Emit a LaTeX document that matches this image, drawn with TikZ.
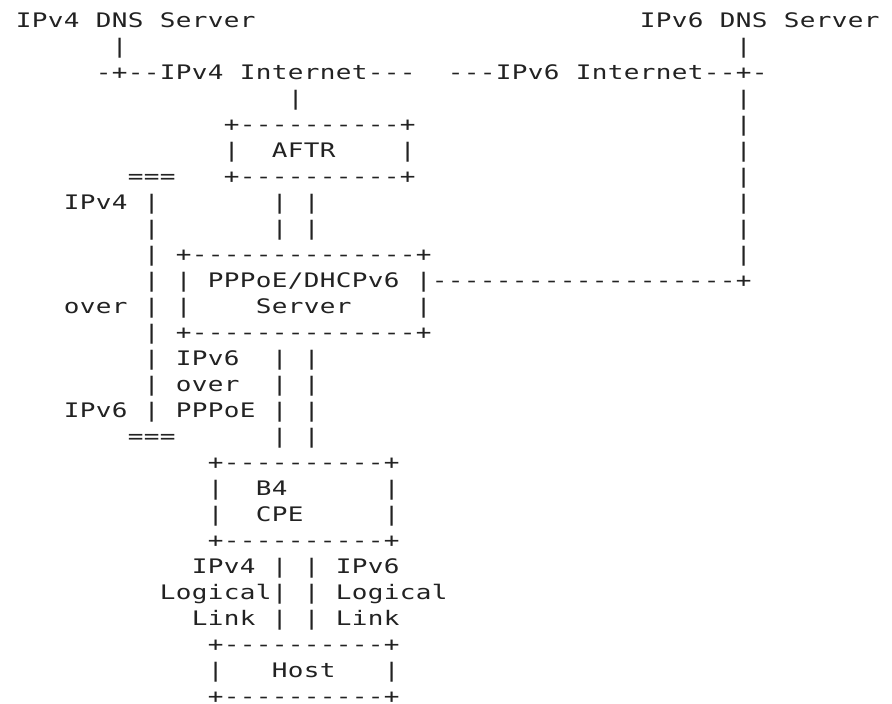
\documentclass[tikz,border=0pt]{standalone}
\usepackage{fontspec}
\newfontfamily\asciifont[FakeStretch=1.3]{DejaVu Sans Mono}
\definecolor{ink}{RGB}{34,34,34}

% Character grid: one column = 16pt, one row = 26pt.
\newcount\colidx
\newcommand\rowno{0}
% \chrun{row}{first column}{characters}: sets each character in its own cell
\newcommand\chrun[3]{\def\rowno{#1}\colidx=#2\relax\chstep#3\relax}
\def\chstep#1{%
  \ifx#1\relax\else
    \node[ch] (c\rowno-\the\colidx) at (\the\colidx+1.48125, 27-\rowno) {#1};%
    \advance\colidx by 1\relax
    \expandafter\chstep
  \fi}

\begin{document}
\begin{tikzpicture}[x=16pt, y=26pt,
  ch/.style={anchor=base, inner sep=0pt, outer sep=0pt, text=ink,
    font=\asciifont\fontsize{20}{26}\selectfont}]
\useasboundingbox[fill=white] (0,0) rectangle (55.75,27.0769);

% DNS servers and the two Internets
\chrun{1}{0}{IPv4}\chrun{1}{5}{DNS}\chrun{1}{9}{Server}
\chrun{1}{39}{IPv6}\chrun{1}{44}{DNS}\chrun{1}{48}{Server}
\chrun{2}{6}{|}\chrun{2}{45}{|}
\chrun{3}{5}{-+--IPv4}\chrun{3}{14}{Internet---}
\chrun{3}{27}{---IPv6}\chrun{3}{35}{Internet--+-}
\chrun{4}{17}{|}\chrun{4}{45}{|}

% AFTR
\chrun{5}{13}{+----------+}\chrun{5}{45}{|}
\chrun{6}{13}{|}\chrun{6}{16}{AFTR}\chrun{6}{24}{|}\chrun{6}{45}{|}
\chrun{7}{7}{===}\chrun{7}{13}{+----------+}\chrun{7}{45}{|}
\chrun{8}{3}{IPv4}\chrun{8}{8}{|}\chrun{8}{16}{|}\chrun{8}{18}{|}\chrun{8}{45}{|}
\chrun{9}{8}{|}\chrun{9}{16}{|}\chrun{9}{18}{|}\chrun{9}{45}{|}

% PPPoE/DHCPv6 server
\chrun{10}{8}{|}\chrun{10}{10}{+--------------+}\chrun{10}{45}{|}
\chrun{11}{8}{|}\chrun{11}{10}{|}\chrun{11}{12}{PPPoE/DHCPv6}
\chrun{11}{25}{|-------------------+}
\chrun{12}{3}{over}\chrun{12}{8}{|}\chrun{12}{10}{|}\chrun{12}{15}{Server}\chrun{12}{25}{|}
\chrun{13}{8}{|}\chrun{13}{10}{+--------------+}
\chrun{14}{8}{|}\chrun{14}{10}{IPv6}\chrun{14}{16}{|}\chrun{14}{18}{|}
\chrun{15}{8}{|}\chrun{15}{10}{over}\chrun{15}{16}{|}\chrun{15}{18}{|}
\chrun{16}{3}{IPv6}\chrun{16}{8}{|}\chrun{16}{10}{PPPoE}\chrun{16}{16}{|}\chrun{16}{18}{|}
\chrun{17}{7}{===}\chrun{17}{16}{|}\chrun{17}{18}{|}

% B4 CPE
\chrun{18}{12}{+----------+}
\chrun{19}{12}{|}\chrun{19}{15}{B4}\chrun{19}{23}{|}
\chrun{20}{12}{|}\chrun{20}{15}{CPE}\chrun{20}{23}{|}
\chrun{21}{12}{+----------+}
\chrun{22}{11}{IPv4}\chrun{22}{16}{|}\chrun{22}{18}{|}\chrun{22}{20}{IPv6}
\chrun{23}{9}{Logical|}\chrun{23}{18}{|}\chrun{23}{20}{Logical}
\chrun{24}{11}{Link}\chrun{24}{16}{|}\chrun{24}{18}{|}\chrun{24}{20}{Link}

% Host
\chrun{25}{12}{+----------+}
\chrun{26}{12}{|}\chrun{26}{16}{Host}\chrun{26}{23}{|}
\chrun{27}{12}{+----------+}
\end{tikzpicture}
\end{document}
